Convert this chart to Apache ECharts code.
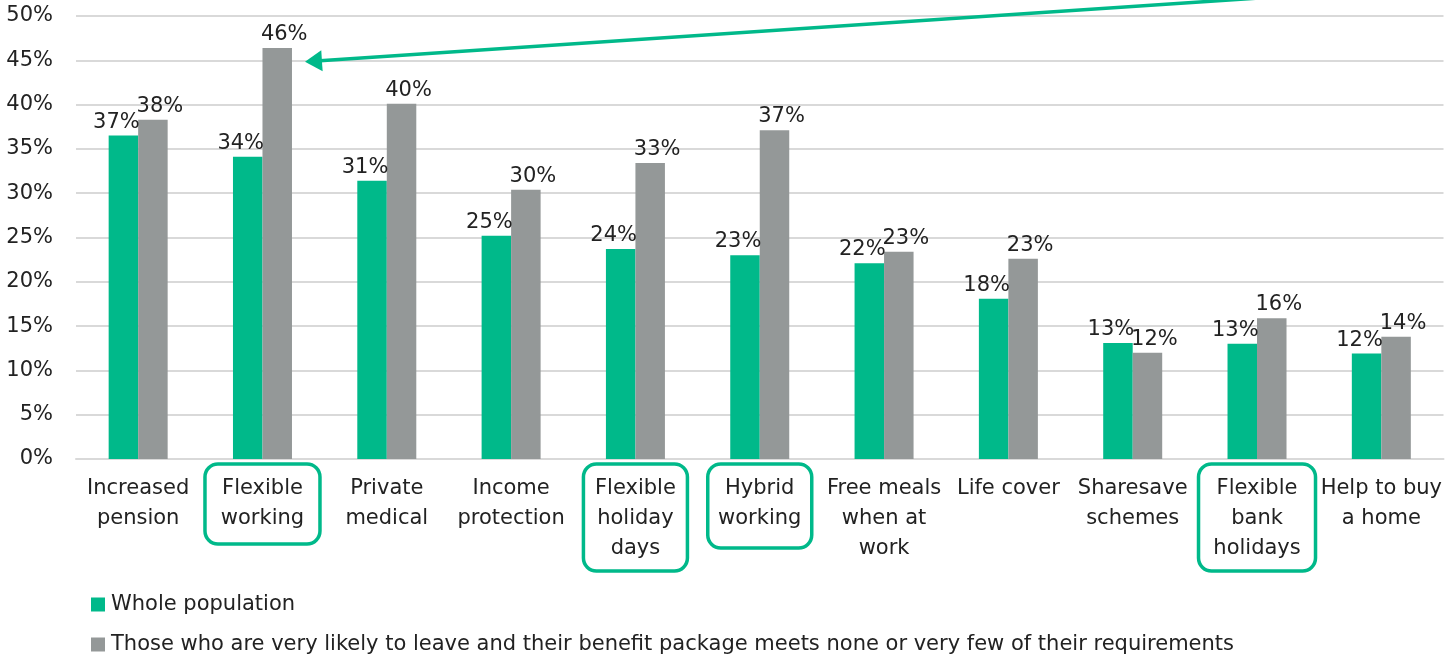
<!DOCTYPE html>
<html>
<head>
<meta charset="utf-8">
<script src="https://cdn.jsdelivr.net/npm/echarts@6/dist/echarts.min.js"></script>
<style>
  html, body { margin: 0; padding: 0; background: #ffffff; }
  #chart { width: 1445px; height: 655px; }
</style>
</head>
<body>
<div id="chart"></div>
<script>
// ---- Data ----
const categories = [
  'Increased\npension', 'Flexible\nworking', 'Private\nmedical', 'Income\nprotection',
  'Flexible\nholiday\ndays', 'Hybrid\nworking', 'Free meals\nwhen at\nwork', 'Life cover',
  'Sharesave\nschemes', 'Flexible\nbank\nholidays', 'Help to buy\na home'
];
const seriesNames = [
  'Whole population',
  'Those who are very likely to leave and their benefit package meets none or very few of their requirements'
];
const wholePopulation = [36.5, 34.1, 31.4, 25.2, 23.7, 23.0, 22.1, 18.1, 13.1, 13.0, 11.9];
const likelyToLeave   = [38.3, 46.4, 40.1, 30.4, 33.4, 37.1, 23.4, 22.6, 12.0, 15.9, 13.8];
const highlightedCategories = ['Flexible\nworking', 'Flexible\nholiday\ndays', 'Hybrid\nworking', 'Flexible\nbank\nholidays'];
const yMin = 0, yMax = 50, yInterval = 5;

// ---- Styles ----
const GREEN = '#00B98A';
const GREY = '#949898';
const TEXT = '#222222';
const FONT = '"DejaVu Sans", Inter, sans-serif';
const FS = 21;

// box styling for the highlighted category labels
const boxStyle = {
  'Flexible\nworking':        { width: 115, padding: [10, 0, 10, 0] },
  'Flexible\nholiday\ndays':  { width: 104, padding: [10, 0, 7, 0] },
  'Hybrid\nworking':          { width: 104, padding: [10, 0, 14, 0] },
  'Flexible\nbank\nholidays': { width: 117, padding: [10, 0, 7, 0] }
};

const axisData = categories.map(c => {
  if (highlightedCategories.indexOf(c) >= 0) {
    const b = boxStyle[c];
    return {
      value: c,
      textStyle: {
        width: b.width,
        padding: b.padding,
        borderColor: GREEN,
        borderWidth: 3.5,
        borderRadius: 13
      }
    };
  }
  return c;
});

const chart = echarts.init(document.getElementById('chart'), null, { renderer: 'canvas' });

const labelCommon = {
  show: true,
  position: 'top',
  distance: 3,
  fontFamily: FONT,
  fontSize: FS,
  color: TEXT,
  formatter: p => Math.round(p.value) + '%'
};

const legendCommon = {
  orient: 'horizontal',
  left: 91,
  padding: 0,
  itemWidth: 14,
  itemHeight: 14,
  icon: 'rect',
  itemGap: 0,
  textStyle: { fontFamily: FONT, fontSize: FS, color: TEXT, lineHeight: 20, padding: [0, 0, 0, 1] }
};

const option = {
  animation: false,
  backgroundColor: '#ffffff',
  textStyle: { fontFamily: FONT },
  grid: { left: 76, right: 1, top: 16, bottom: 196, containLabel: false },
  legend: [
    Object.assign({}, legendCommon, { top: 594, data: [seriesNames[0]] }),
    Object.assign({}, legendCommon, { top: 634, data: [seriesNames[1]] })
  ],
  xAxis: {
    type: 'category',
    data: axisData,
    axisLine: { show: true, lineStyle: { color: '#d9d9d9', width: 2 } },
    axisTick: { show: false },
    axisLabel: {
      interval: 0,
      margin: 5,
      fontFamily: FONT,
      fontSize: FS,
      lineHeight: 30,
      color: TEXT,
      padding: [10, 0, 0, 0]
    }
  },
  yAxis: {
    type: 'value',
    min: yMin,
    max: yMax,
    interval: yInterval,
    axisLine: { show: false },
    axisTick: { show: false },
    splitLine: { lineStyle: { color: '#d9d9d9', width: 2 } },
    axisLabel: {
      margin: 23,
      fontFamily: FONT,
      fontSize: FS,
      color: TEXT,
      formatter: '{value}%'
    }
  },
  series: [
    {
      name: seriesNames[0],
      type: 'bar',
      data: wholePopulation,
      barWidth: 29.5,
      barGap: '0%',
      itemStyle: { color: GREEN },
      label: Object.assign({}, labelCommon, { offset: [-7, 0] })
    },
    {
      name: seriesNames[1],
      type: 'bar',
      data: likelyToLeave,
      barWidth: 29.5,
      barGap: '0%',
      itemStyle: { color: GREY },
      label: Object.assign({}, labelCommon, { offset: [7, 0] })
    }
  ]
};

chart.setOption(option);

// ---- Arrow annotation pointing at the "Flexible working" grey bar ----
const anchor = chart.convertToPixel({ xAxisIndex: 0, yAxisIndex: 0 }, [1, 45]);
const tip = [anchor[0] + 42.5, anchor[1] + 1.5];
const dir = [0.9978, -0.0667];
const nrm = [0.0667, 0.9978];
const headLen = 17, headHalf = 10.5;
const baseC = [tip[0] + dir[0] * headLen, tip[1] + dir[1] * headLen];
const farEnd = [tip[0] + dir[0] * 1100, tip[1] + dir[1] * 1100];

chart.setOption({
  graphic: [
    {
      type: 'line',
      shape: { x1: baseC[0] - dir[0] * 2, y1: baseC[1] - dir[1] * 2, x2: farEnd[0], y2: farEnd[1] },
      style: { stroke: GREEN, lineWidth: 3.5 },
      z: 100
    },
    {
      type: 'polygon',
      shape: {
        points: [
          tip,
          [baseC[0] + nrm[0] * headHalf, baseC[1] + nrm[1] * headHalf],
          [baseC[0] - nrm[0] * headHalf, baseC[1] - nrm[1] * headHalf]
        ]
      },
      style: { fill: GREEN },
      z: 101
    }
  ]
});
</script>
</body>
</html>
